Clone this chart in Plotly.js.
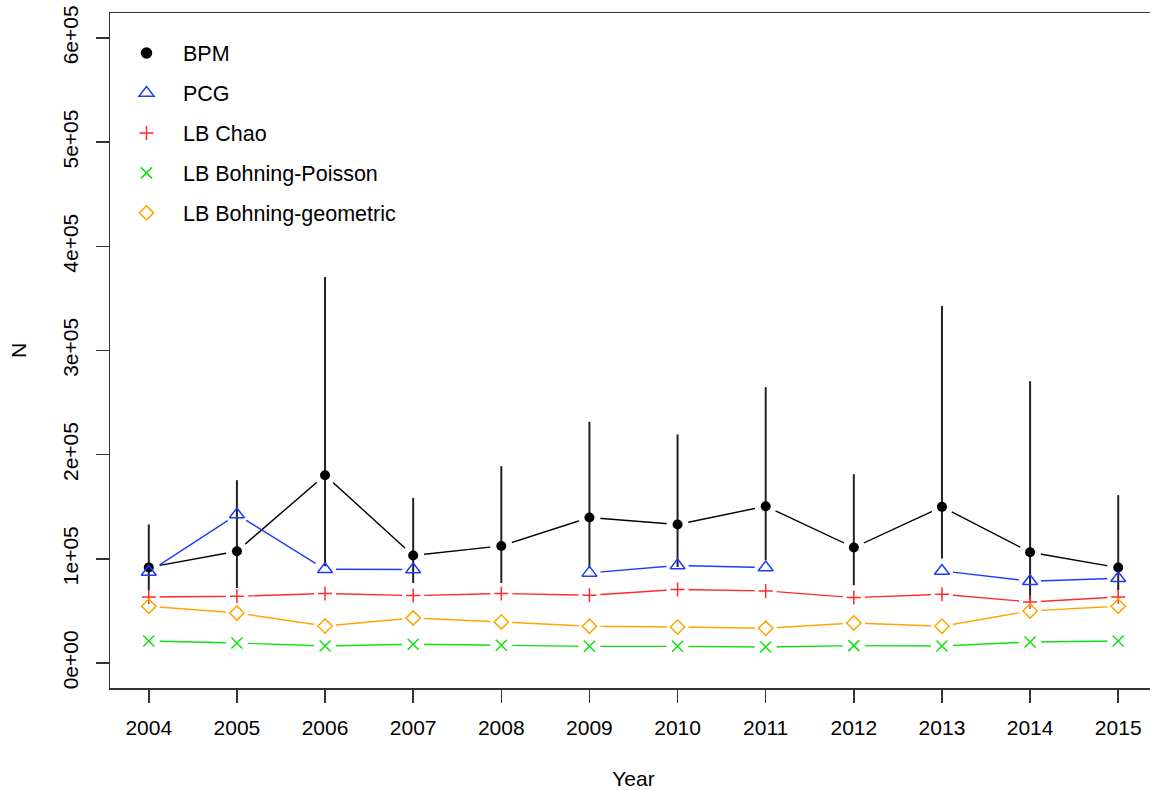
<!DOCTYPE html>
<html>
<head>
<meta charset="utf-8">
<script src="https://cdn.plot.ly/plotly-3.0.1.min.js"></script>
<style>
html, body { margin: 0; padding: 0; overflow: hidden; background: #fff; }
#chart { width: 1157px; height: 790px; }
</style>
</head>
<body>
<div id="chart"></div>
<script>
var years = [2004, 2005, 2006, 2007, 2008, 2009, 2010, 2011, 2012, 2013, 2014, 2015];
var yearLabels = ["2004", "2005", "2006", "2007", "2008", "2009", "2010", "2011", "2012", "2013", "2014", "2015"];
var bpm      = [91800, 107300, 180300, 103200, 112400, 139700, 133000, 150500, 110800, 149900, 106300, 91600];
var bpmUpper = [133000, 175500, 370500, 158500, 189000, 231500, 219400, 264800, 181300, 342700, 270600, 161100];
var bpmLower = [70000, 72000, 93000, 76800, 76800, 91000, 92200, 98700, 74600, 100300, 60000, 70000];
var pcg      = [87400, 142500, 90000, 89700, null, 86500, 93600, 91600, null, 88400, 78500, 81400];
var lbChao   = [63400, 64100, 66700, 64700, 66700, 65000, 70500, 69200, 62800, 66000, 58600, 63400];
var lbPois   = [21100, 19200, 16300, 18000, 17000, 16000, 16000, 15400, 16700, 16300, 20200, 21100];
var lbGeom   = [54500, 48000, 35500, 43200, 39400, 35300, 34600, 33300, 38400, 35300, 50000, 54500];
var yTickVals = [0, 100000, 200000, 300000, 400000, 500000, 600000];
var yTickText = ["0e+00", "1e+05", "2e+05", "3e+05", "4e+05", "5e+05", "6e+05"];

var names = ["BPM", "PCG", "LB Chao", "LB Bohning-Poisson", "LB Bohning-geometric"];
var colors = ["#000000", "#1a3cff", "#ff2a2a", "#10e010", "#ffa500"];
var symbols = ["circle", "triangle-up-open", "cross-thin-open", "x-thin-open", "diamond-open"];
var sizes = [10, 13, 10, 11, 11];
var series = [bpm, pcg, lbChao, lbPois, lbGeom];

var traces = [];
for (var i = 0; i < series.length; i++) {
  traces.push({x: years, y: series[i], type: 'scatter', mode: 'lines', connectgaps: false,
    line: {color: colors[i], width: 1.4}, showlegend: false, hoverinfo: 'skip'});
}
for (var i = 0; i < series.length; i++) {
  traces.push({x: years, y: series[i], type: 'scatter', mode: 'markers',
    marker: {symbol: 'circle', size: 22, color: '#ffffff', line: {width: 0}},
    showlegend: false, hoverinfo: 'skip'});
}
var errUp = bpmUpper.map(function (u, k) { return u - bpm[k]; });
var errDn = bpmLower.map(function (l, k) { return bpm[k] - l; });
traces.push({x: years, y: bpm, type: 'scatter', mode: 'markers', name: 'BPM',
  marker: {symbol: 'circle', size: sizes[0], color: '#000000'},
  error_y: {type: 'data', symmetric: false, array: errUp, arrayminus: errDn,
    width: 0, thickness: 2, color: '#222222'},
  showlegend: false});
for (var i = 1; i < series.length; i++) {
  traces.push({x: years, y: series[i], type: 'scatter', mode: 'markers', name: names[i],
    marker: {symbol: symbols[i], size: sizes[i], color: colors[i], line: {color: colors[i], width: 1.5}},
    showlegend: false});
}
for (var i = 0; i < series.length; i++) {
  traces.push({x: [null], y: [null], type: 'scatter', mode: 'markers', name: names[i],
    legendgroup: 'g' + i,
    marker: {symbol: symbols[i], size: sizes[i], color: colors[i], line: {color: colors[i], width: 1.5}},
    showlegend: true});
}

var fam = 'Liberation Sans, Arial, Helvetica, sans-serif';
var font = {family: fam, size: 21, color: '#000'};
var legFont = {family: fam, size: 21.5, color: '#000'};

var layout = {
  width: 1157, height: 790,
  margin: {l: 110, r: 0, t: 13, b: 102, pad: 0},
  paper_bgcolor: '#fff', plot_bgcolor: '#fff',
  font: font,
  showlegend: true,
  legend: {x: 0.0, y: 0.971, xanchor: 'left', yanchor: 'top',
    font: legFont, bgcolor: 'rgba(0,0,0,0)', borderwidth: 0,
    traceorder: 'grouped', tracegroupgap: 9, itemwidth: 63},
  xaxis: {
    range: [2003.56, 2015.44], showgrid: false, zeroline: false,
    showline: true, mirror: true, linecolor: '#333', linewidth: 1.5,
    ticks: 'outside', ticklen: 13, tickwidth: 1.5, tickcolor: '#333',
    tickvals: years, ticktext: yearLabels, tickfont: font, ticklabelstandoff: 7,
    title: {text: 'Year', font: font, standoff: 34}
  },
  yaxis: {
    range: [-24000, 624000], showgrid: false, zeroline: false,
    showline: true, mirror: true, linecolor: '#333', linewidth: 1.5,
    ticks: 'outside', ticklen: 13, tickwidth: 1.5, tickcolor: '#333',
    tickvals: yTickVals, ticktext: yTickText, tickangle: -90, tickfont: font,
    ticklabelstandoff: 9,
    title: {text: 'N', font: font, standoff: 26}
  }
};

Plotly.newPlot('chart', traces, layout, {displayModeBar: false, staticPlot: true});
</script>
</body>
</html>
